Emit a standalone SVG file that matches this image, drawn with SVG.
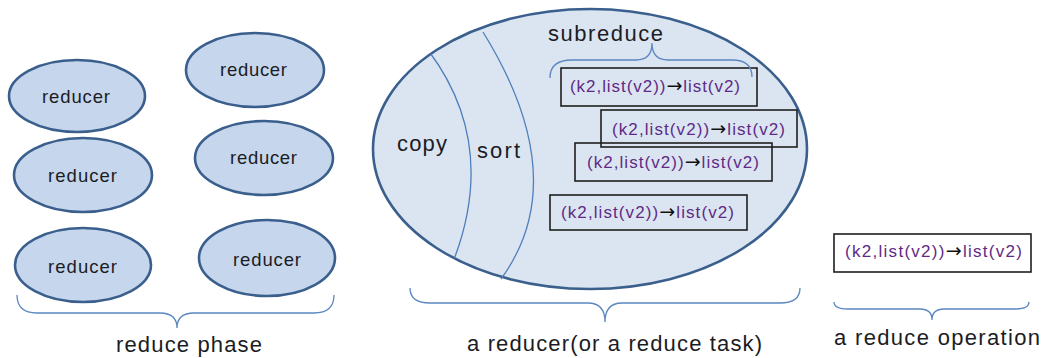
<svg xmlns="http://www.w3.org/2000/svg" width="1047" height="358" viewBox="0 0 1047 358">
<style>
.small{fill:#c6d6ec;stroke:#3a5f8d;stroke-width:2.6}
.big{fill:#dbe5f1;stroke:#3a5f8d;stroke-width:2.6}
.arc{fill:none;stroke:#4f7fbb;stroke-width:1.3}
.brace{fill:none;stroke:#5b87c0;stroke-width:1.3}
.box{fill:none;stroke:#1e1e1e;stroke-width:1.6}
.lbl{font-family:"Liberation Sans",Arial,sans-serif;fill:#1c1c24}
.r{font-size:18.5px}
.big-t{font-size:22px}
.op{font-family:"Liberation Sans",Arial,sans-serif;font-size:17px;fill:#5f2a86}
.ar{font-family:"DejaVu Sans",sans-serif;fill:#111;font-size:19px}
</style>
<defs>
<clipPath id="bigClip"><ellipse cx="590" cy="149" rx="217" ry="140"/></clipPath>
</defs>

<g id="reducer1"><ellipse class="small" cx="77" cy="96" rx="68" ry="36"/><text class="lbl r" x="42" y="103" textLength="68" lengthAdjust="spacing">reducer</text></g>
<g id="reducer2"><ellipse class="small" cx="83" cy="175" rx="69" ry="37"/><text class="lbl r" x="48" y="182" textLength="69" lengthAdjust="spacing">reducer</text></g>
<g id="reducer3"><ellipse class="small" cx="83" cy="265" rx="68" ry="37"/><text class="lbl r" x="48" y="273" textLength="69" lengthAdjust="spacing">reducer</text></g>
<g id="reducer4"><ellipse class="small" cx="255" cy="70" rx="69" ry="37"/><text class="lbl r" x="220" y="76" textLength="67" lengthAdjust="spacing">reducer</text></g>
<g id="reducer5"><ellipse class="small" cx="264" cy="158" rx="69" ry="37"/><text class="lbl r" x="230" y="164" textLength="67" lengthAdjust="spacing">reducer</text></g>
<g id="reducer6"><ellipse class="small" cx="267" cy="258" rx="68" ry="38"/><text class="lbl r" x="233" y="266" textLength="68" lengthAdjust="spacing">reducer</text></g>

<g id="reduce-task">
<ellipse class="big" cx="590" cy="149" rx="217" ry="140"/>
<g clip-path="url(#bigClip)">
<path class="arc" d="M428,50 Q499,144 453,262"/>
</g>
<path class="arc" d="M483,32 Q574,179 501,279"/>
<text class="lbl big-t" x="397" y="151" textLength="50" lengthAdjust="spacing">copy</text>
<text class="lbl big-t" x="477" y="158" textLength="43" lengthAdjust="spacing">sort</text>
<text class="lbl big-t" x="548" y="41" textLength="115" lengthAdjust="spacing">subreduce</text>
</g>

<g id="op1"><rect class="box" x="561" y="68" width="196" height="38"/><text class="op" x="570" y="92" textLength="170" lengthAdjust="spacing">(k2,list(v2))<tspan class="ar">→</tspan>list(v2)</text></g>
<g id="op2"><rect class="box" x="601" y="110" width="196" height="37"/><text class="op" x="612" y="135" textLength="173" lengthAdjust="spacing">(k2,list(v2))<tspan class="ar">→</tspan>list(v2)</text></g>
<g id="op3"><rect class="box" x="575" y="143" width="197" height="38"/><text class="op" x="587" y="168" textLength="172" lengthAdjust="spacing">(k2,list(v2))<tspan class="ar">→</tspan>list(v2)</text></g>
<g id="op4"><rect class="box" x="550" y="195" width="197" height="35"/><text class="op" x="561" y="218" textLength="173" lengthAdjust="spacing">(k2,list(v2))<tspan class="ar">→</tspan>list(v2)</text></g>
<g id="op5"><rect class="box" x="834" y="234" width="197" height="38"/><text class="op" x="845" y="257" textLength="177" lengthAdjust="spacing">(k2,list(v2))<tspan class="ar">→</tspan>list(v2)</text></g>

<g id="connectors">
<path class="brace" d="M17,295 Q17,313 37,313 L160,313 Q177,313 177,328 Q177,313 194,313 L314,313 Q334,313 334,295"/>
<path class="brace" d="M410,288 Q410,303 430,303 L588,303 Q605,303 605,322 Q605,303 622,303 L780,303 Q800,303 800,288"/>
<path class="brace" d="M834,302 Q834,309 848,309 L920,309 Q932,309 932,320 Q932,309 944,309 L1015,309 Q1029,309 1029,302"/>
<path class="brace" d="M550,78 Q550,60 572,60 L636,60 Q652,60 652,43 Q652,60 668,60 L732,60 Q752,60 752,77"/>
</g>

<g id="labels">
<text class="lbl big-t" x="116" y="352" textLength="146" lengthAdjust="spacing">reduce phase</text>
<text class="lbl big-t" x="467" y="351" textLength="295" lengthAdjust="spacing">a reducer(or a reduce task)</text>
<text class="lbl big-t" x="834" y="345" textLength="206" lengthAdjust="spacing">a reduce operation</text>
</g>
</svg>
